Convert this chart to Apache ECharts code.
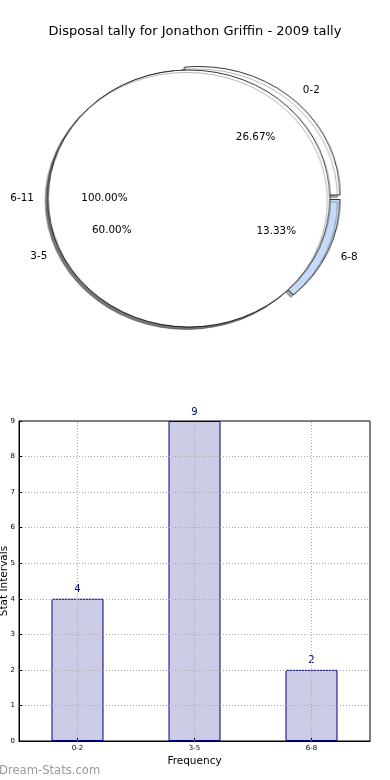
<!DOCTYPE html>
<html>
<head>
<meta charset="utf-8">
<script src="https://cdn.jsdelivr.net/npm/echarts@6/dist/echarts.min.js"></script>
<style>
  html, body { margin: 0; padding: 0; background: #fff; }
  #wrap { position: relative; width: 390px; height: 780px; overflow: hidden; }
  #pie { position: absolute; left: 0; top: 0; width: 390px; height: 340px; }
  #main { position: absolute; left: 0; top: 0; width: 390px; height: 780px; }
</style>
</head>
<body>
<div id="wrap">
  <div id="pie"></div>
  <div id="main"></div>
</div>
<script>
// ---- data ----
const titleText = 'Disposal tally for Jonathon Griffin - 2009 tally';
const pieCategories = ['0-2', '3-5', '6-8'];
const pieValues = [4, 9, 2];
const pieColors = ['#ffffff', '#ffffff', '#c6daf8'];
const overlayCategories = ['6-11'];
const overlayValues = [1];
const barCategories = ['0-2', '3-5', '6-8'];
const barValues = [4, 9, 2];
const yMin = 0, yMax = 9, yStep = 1;

// ---- layout ----
const FONT = 'DejaVu Sans';
const P = { cx: 189, cy: 198.5, rx: 141, ry: 128.5 };
const explode = [[10, -3.5], [0, 0], [10, 1]];
const sx = P.rx / P.ry;
const shadow = { shadowColor: 'rgba(77,77,77,0.5)', shadowBlur: 0, shadowOffsetX: -2.6 / sx, shadowOffsetY: 2.4 };

const pieDiv = document.getElementById('pie');
pieDiv.style.transformOrigin = P.cx + 'px 0px';
pieDiv.style.transform = 'scaleX(' + sx + ')';

const pieChart = echarts.init(pieDiv, null, { renderer: 'canvas' });
const series = [];
pieCategories.forEach((c, i) => {
  series.push({
    type: 'pie', silent: true, animation: false,
    radius: [0, P.ry],
    center: [P.cx + explode[i][0] / sx, P.cy + explode[i][1]],
    startAngle: 0, clockwise: false,
    label: { show: false }, labelLine: { show: false },
    emphasis: { disabled: true },
    data: pieCategories.map((n, j) => ({
      name: n, value: pieValues[j],
      itemStyle: j === i
        ? Object.assign({ color: pieColors[j], borderColor: '#000', borderWidth: 0.8 }, shadow)
        : { color: 'rgba(0,0,0,0)', borderWidth: 0, shadowColor: 'rgba(0,0,0,0)' }
    }))
  });
});
series.push({
  type: 'pie', silent: true, animation: false,
  radius: [0, P.ry], center: [P.cx, P.cy],
  startAngle: 0, clockwise: false,
  label: { show: false }, labelLine: { show: false },
  emphasis: { disabled: true },
  data: overlayCategories.map((n, j) => ({
    name: n, value: overlayValues[j],
    itemStyle: Object.assign({ color: '#ffffff', borderColor: '#000', borderWidth: 0.8 }, shadow)
  }))
});
pieChart.setOption({ animation: false, series: series });

// ---- pie labels (computed from data) ----
const graphics = [];
function addPieLabels(cats, vals, centers) {
  const total = vals.reduce((a, b) => a + b, 0);
  let cum = 0;
  cats.forEach((c, i) => {
    const th = (cum + vals[i] / 2) / total * 2 * Math.PI;
    cum += vals[i];
    const cx = centers[i][0], cy = centers[i][1];
    const co = Math.cos(th), si = Math.sin(th);
    graphics.push({
      type: 'text', x: cx + 1.1 * P.rx * co, y: cy - 1.1 * P.ry * si, silent: true,
      style: { text: c, fill: '#000', fontSize: 10.4, fontFamily: FONT,
               align: co > 0 ? 'left' : 'right', verticalAlign: 'middle' }
    });
    graphics.push({
      type: 'text', x: cx + 0.6 * P.rx * co, y: cy - 0.6 * P.ry * si, silent: true,
      style: { text: (vals[i] / total * 100).toFixed(2) + '%', fill: '#000', fontSize: 10.4,
               fontFamily: FONT, align: 'center', verticalAlign: 'middle' }
    });
  });
}
addPieLabels(pieCategories, pieValues, explode.map(e => [P.cx + e[0], P.cy + e[1]]));
addPieLabels(overlayCategories, overlayValues, overlayCategories.map(() => [P.cx, P.cy]));
graphics.push({
  type: 'text', x: -1, y: 771, silent: true,
  style: { text: 'Dream-Stats.com', fill: '#9a9a9a', fontSize: 11.6, fontFamily: FONT,
           fontWeight: 'normal', align: 'left', verticalAlign: 'middle' }
});

// ---- main chart ----
const main = echarts.init(document.getElementById('main'), null, { renderer: 'canvas' });
const dotted = { type: [1, 2], color: '#a8a8a8', width: 1 };
main.setOption({
  animation: false,
  backgroundColor: 'transparent',
  title: {
    text: titleText, left: 'center', top: 20,
    textStyle: { fontSize: 13, fontWeight: 'normal', color: '#000', fontFamily: FONT }
  },
  graphic: graphics,
  grid: { left: 19, top: 421, width: 351, height: 320, show: true, borderColor: '#000', borderWidth: 1,
          backgroundColor: 'transparent', containLabel: false, outerBoundsMode: 'none' },
  xAxis: {
    type: 'category', data: barCategories, boundaryGap: true, z: 3,
    axisLine: { lineStyle: { color: '#000', width: 1 } },
    axisTick: { show: true, alignWithLabel: true, inside: true, length: 3, lineStyle: { color: '#000' } },
    axisLabel: { fontSize: 7, color: '#000', margin: 4, fontFamily: FONT },
    splitLine: { show: false },
    name: 'Frequency', nameLocation: 'middle', nameGap: 15, nameMoveOverlap: false,
    nameTextStyle: { fontSize: 10.5, color: '#000', fontFamily: FONT }
  },
  yAxis: {
    type: 'value', min: yMin, max: yMax, interval: yStep, z: 3,
    axisLine: { show: true, lineStyle: { color: '#000', width: 1 } },
    axisTick: { show: true, inside: true, length: 3, lineStyle: { color: '#000' } },
    axisLabel: { fontSize: 7, color: '#000', margin: 4, fontFamily: FONT },
    splitLine: { show: true, showMinLine: false, showMaxLine: false, lineStyle: dotted },
    name: 'Stat Intervals', nameLocation: 'middle', nameGap: 9, nameRotate: 90, nameMoveOverlap: false,
    nameTextStyle: { fontSize: 10.5, color: '#000', fontFamily: FONT }
  },
  series: [{
    type: 'bar', data: barValues, barWidth: 52, silent: true,
    itemStyle: { color: '#cccce6', borderColor: '#000080', borderWidth: 1 },
    label: { show: true, position: 'top', distance: 4, color: '#000080', fontSize: 10, fontFamily: FONT },
    markLine: {
      silent: true, symbol: 'none', label: { show: false }, z: 5,
      lineStyle: dotted, emphasis: { disabled: true },
      data: barCategories.map(c => ({ xAxis: c }))
    }
  }]
});
</script>
</body>
</html>
